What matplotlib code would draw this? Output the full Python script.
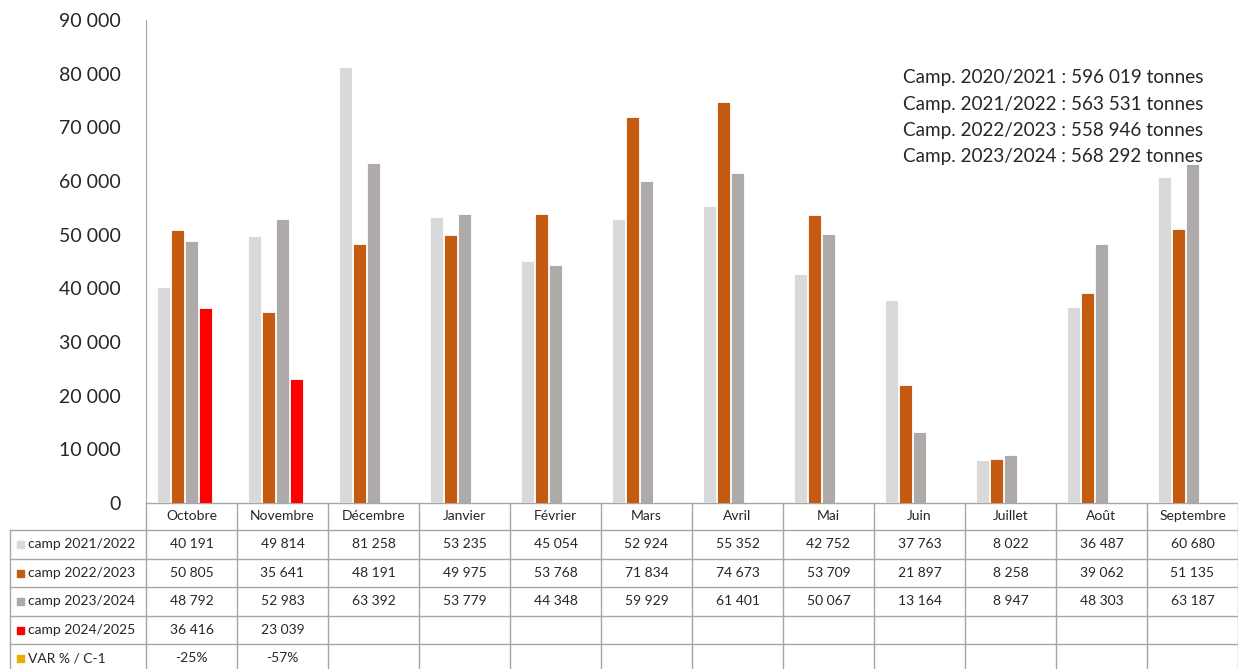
import matplotlib.pyplot as plt
import numpy as np

months = ['Octobre', 'Novembre', 'Décembre', 'Janvier', 'Février', 'Mars',
          'Avril', 'Mai', 'Juin', 'Juillet', 'Août', 'Septembre']
camp_2122 = [40191, 49814, 81258, 53235, 45054, 52924, 55352, 42752, 37763, 8022, 36487, 60680]
camp_2223 = [50805, 35641, 48191, 49975, 53768, 71834, 74673, 53709, 21897, 8258, 39062, 51135]
camp_2324 = [48792, 52983, 63392, 53779, 44348, 59929, 61401, 50067, 13164, 8947, 48303, 63187]
camp_2425 = [36416, 23039]
var_c1 = ['-25%', '-57%']
series_names = ['camp 2021/2022', 'camp 2022/2023', 'camp 2023/2024', 'camp 2024/2025', 'VAR % / C-1']
colors = ['#D9D9D9', '#C55A11', '#AEAAAA', '#FF0000', '#E6AC00']
totals = ['Camp. 2020/2021 : 596 019 tonnes',
          'Camp. 2021/2022 : 563 531 tonnes',
          'Camp. 2022/2023 : 558 946 tonnes',
          'Camp. 2023/2024 : 568 292 tonnes']

plt.rcParams['font.family'] = ['Lato', 'DejaVu Sans']
W, H = 1238, 669
fig = plt.figure(figsize=(W / 100, H / 100), dpi=100)

# table / text layer in pixel coordinates
tab = fig.add_axes([0, 0, 1, 1])
tab.set_xlim(0, W)
tab.set_ylim(H, 0)
tab.axis('off')

x0, colw = 146, 91
ax = fig.add_axes([x0 / W, (H - 503) / H, 12 * colw / W, 483 / H])
x = np.arange(len(months))
w = 0.145
step = 0.154
all_series = [camp_2122, camp_2223, camp_2324, camp_2425]
for k, vals in enumerate(all_series):
    xs = np.arange(len(vals)) + (k - 2) * step
    ax.bar(xs, vals, width=w, color=colors[k], edgecolor='white', linewidth=0.6, zorder=2)
ax.set_xlim(-0.5, 11.5)
ax.set_ylim(0, 90000)
ax.set_yticks(np.arange(0, 90001, 10000))
ax.set_yticklabels([f'{v:,}'.replace(',', ' ') for v in range(0, 90001, 10000)],
                   fontsize=14, color='#262626')
ax.tick_params(axis='y', length=0, pad=18)
ax.set_xticks([])
for s in ['top', 'right', 'bottom']:
    ax.spines[s].set_visible(False)
ax.spines['left'].set_color('#A6A6A6')
ax.patch.set_alpha(0)

# campaign totals, left aligned
for i, t in enumerate(totals):
    ax.text(0.693, 0.88 - i * 0.054, t, transform=ax.transAxes, ha='left', va='center',
            fontsize=13.6, color='#262626')

# data table
grid = '#A6A6A6'
row_top = [503, 530, 559, 587, 616, 644]
row_h = 28.5
left = 10
xr = x0 + 12 * colw
# header row
tab.plot([x0, xr], [503, 503], color=grid, lw=1)
for j, m in enumerate(months):
    tab.text(x0 + (j + 0.5) * colw, 516.5, m, ha='center', va='center', fontsize=10, color='#262626')
rows = [camp_2122, camp_2223, camp_2324, camp_2425, var_c1]
for r, (name, vals) in enumerate(zip(series_names, rows)):
    yt = row_top[r + 1]
    yc = yt + row_h / 2
    tab.plot([left, xr], [yt, yt], color=grid, lw=1)
    tab.add_patch(plt.Rectangle((17, yc - 3.5), 7, 7, color=colors[r]))
    tab.text(28, yc, name, ha='left', va='center', fontsize=10, color='#262626')
    for j, v in enumerate(vals):
        s = v if isinstance(v, str) else f'{v:,}'.replace(',', ' ')
        tab.text(x0 + (j + 0.5) * colw, yc, s, ha='center', va='center', fontsize=10, color='#262626')
tab.plot([left, left], [530, H], color=grid, lw=1)
for j in range(13):
    tab.plot([x0 + j * colw, x0 + j * colw], [503, H], color=grid, lw=1)

fig.savefig('out.png', dpi=100)
